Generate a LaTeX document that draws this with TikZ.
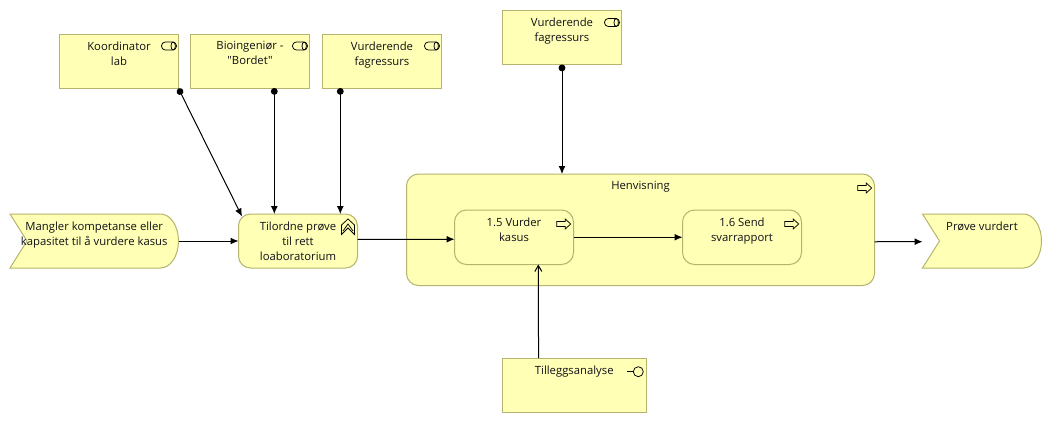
\documentclass[tikz,border=0pt]{standalone}
\usepackage{fontspec}
\newfontfamily\labfont{Open Sans}
\usepackage{xcolor}
\usetikzlibrary{calc,positioning,arrows.meta}
\definecolor{elfill}{HTML}{FFFFB5}
\definecolor{elline}{HTML}{B4B46E}
\definecolor{ink}{HTML}{101018}
\tikzset{
  element/.style={rectangle, fill=elfill, draw=elline, line width=1pt, outer sep=0pt, inner sep=0pt, minimum width=119pt, minimum height=54pt},
  resbox/.style={element},
  procbox/.style={element, rounded corners=12pt},
  eventbox/.style={rectangle, outer sep=0pt, inner sep=0pt, minimum height=54pt},
  lab/.style={text=ink, font=\labfont\fontsize{11.3}{15}\selectfont, align=center, inner sep=0pt},
  conn/.style={draw=black, line width=1pt, -{Latex[length=8pt,width=7pt]}},
  assign/.style={draw=black, line width=1pt, {Circle[length=6.8pt,width=6.8pt]}-{Latex[length=8pt,width=7pt]}},
  serve/.style={draw=black, line width=1pt, -{Straight Barb[length=6pt,width=7pt]}},
  icon/.style={draw=black, line width=0.75pt},
  roleicon/.pic={
    \draw[icon, rounded corners=3.8pt] (-7.5,-4) rectangle (7.5,4);
    \draw[icon] (4.2,0) ellipse [x radius=2.2pt, y radius=4pt];
  },
  arrowicon/.pic={
    \draw[icon] (-7,-2.5) -- (1.5,-2.5) -- (1.5,-5) -- (7,0) -- (1.5,5) -- (1.5,2.5) -- (-7,2.5) -- cycle;
  },
  chevronicon/.pic={
    \draw[icon] (0,-8) -- (6.5,-2) -- (6.5,7.5) -- (0,1) -- (-6.5,7.5) -- (-6.5,-2) -- cycle;
    \draw[icon] (-5,4) -- (0,-3) -- (5,4);
  },
  ifaceicon/.pic={
    \draw[icon] (-11.5,0) -- (-5,0);
    \draw[icon] (0,0) circle [radius=5pt];
  },
}
\newcommand{\eventshape}[1]{%
  \draw[fill=elfill, draw=elline, line width=1pt] (#1.north west) -- ([xshift=-18pt]#1.north east)
    arc[start angle=90, end angle=-90, x radius=18pt, y radius=27pt]
    -- (#1.south west) -- ([xshift=17pt]#1.west) -- cycle;
}

\begin{document}
\begin{tikzpicture}[x=1pt,y=-1pt]
  \useasboundingbox (0,0) rectangle (1052,423);

  % resources
  \node[resbox] (koordinator) at (119,61) {};
  \node[resbox] (bioing) at (250,61) {};
  \node[resbox] (fagres) at (382,61) {};
  \node[resbox] (fagrestop) at (562,37.5) {};
  \node[resbox, minimum width=143.5pt] (tillegg) at (574.25,385) {};

  % events
  \node[eventbox, minimum width=168.5pt] (mangler) at (94.25,241) {};
  \node[eventbox, minimum width=119pt] (vurdert) at (982,241) {};
  \eventshape{mangler}
  \eventshape{vurdert}

  % processes
  \node[procbox] (tilordne) at (298,241) {};
  \node[procbox, minimum width=468pt, minimum height=111.5pt] (henvisning) at (640.5,229.75) {};
  \node[procbox, minimum height=54.5pt] (vurder) at (514,237.25) {};
  \node[procbox, minimum height=54.5pt] (send) at (742,237.25) {};

  % texts
  \node[lab, below=7.5pt of koordinator.north] (koordinatortxt) {Koordinator\\lab};
  \node[lab, below=7.5pt of bioing.north] (bioingtxt) {Bioingeniør -\\"Bordet"};
  \node[lab, below=7.5pt of fagres.north] (fagrestxt) {Vurderende\\fagressurs};
  \node[lab, below=7.5pt of fagrestop.north] (fagrestoptxt) {Vurderende\\fagressurs};
  \node[lab, below=7.5pt of tillegg.north] (tilleggtxt) {Tilleggsanalyse};
  \node[lab, below=7.5pt of mangler.north] (manglertxt) {Mangler kompetanse eller\\kapasitet til å vurdere kasus};
  \node[lab, below=7.5pt of vurdert.north] (vurderttxt) {Prøve vurdert};
  \node[lab, below=7.5pt of tilordne.north] (tilordnetxt) {Tilordne prøve\\til rett\\loaboratorium};
  \node[lab, below=7.5pt of henvisning.north] (henvisningtxt) {Henvisning};
  \node[lab, below=7.5pt of vurder.north] (vurdertxt) {1.5 Vurder\\kasus};
  \node[lab, below=7.5pt of send.north] (sendtxt) {1.6 Send\\svarrapport};

  % icons
  \pic at ([shift={(-9.5,12)}]koordinator.north east) {roleicon};
  \pic at ([shift={(-9.5,12)}]bioing.north east) {roleicon};
  \pic at ([shift={(-9.5,12)}]fagres.north east) {roleicon};
  \pic at ([shift={(-9.5,12)}]fagrestop.north east) {roleicon};
  \pic at ([shift={(-9.5,13)}]tilordne.north east) {chevronicon};
  \pic at ([shift={(-9.8,14)}]henvisning.north east) {arrowicon};
  \pic at ([shift={(-9.8,14)}]vurder.north east) {arrowicon};
  \pic at ([shift={(-9.8,14)}]send.north east) {arrowicon};
  \pic at ([shift={(-7.7,13.7)}]tillegg.north east) {ifaceicon};

  % connectors
  \draw[assign] ([shift={(0,0.5)}]koordinator.south east) -- ([shift={(3.5,2.5)}]tilordne.north west);
  \draw[assign] (bioing.south -| tilordne.north west) ++(35.8,0) -- ++(0,126);
  \draw[assign] (fagres.south -| tilordne.north west) ++(101.8,0) -- ++(0,126);
  \draw[assign] (fagrestop.south) -- (fagrestop.south |- henvisning.north);
  \draw[conn] (mangler.east) -- (tilordne.west);
  \draw[conn] ([yshift=1.7pt]tilordne.east) -- ([yshift=-2pt]vurder.west);
  \draw[conn] (vurder.east) -- (send.west);
  \draw[conn] ([yshift=-12pt]henvisning.east) -- ([yshift=-0.7pt]vurdert.west);
  \draw[serve] ([xshift=-35.7pt]tillegg.north) -- ([xshift=24.3pt]vurder.south);
\end{tikzpicture}
\end{document}
